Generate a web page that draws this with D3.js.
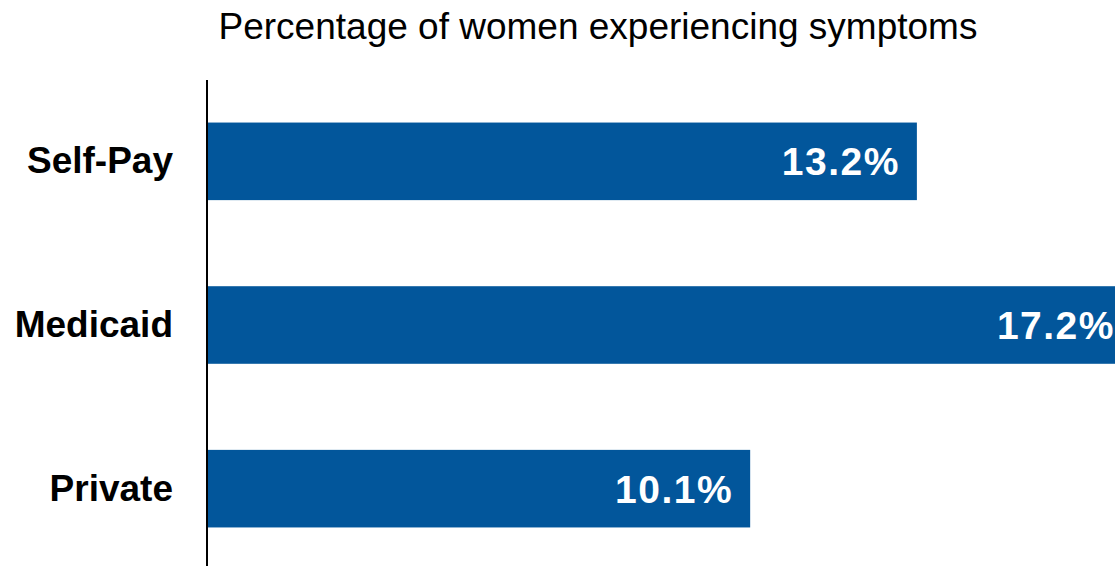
<!DOCTYPE html>
<html>
<head>
<meta charset="utf-8">
<script src="https://cdn.jsdelivr.net/npm/d3@7"></script>
<style>
  body { margin: 0; background: #fff; overflow: hidden; }
  svg { display: block; font-family: "Liberation Sans", Arial, sans-serif; }
</style>
</head>
<body>
<svg id="chart" width="1115" height="566"></svg>
<script>
// chart data
var categories = ['Self-Pay', 'Medicaid', 'Private'];
var values = [13.2, 17.2, 10.1];
var chartTitle = 'Percentage of women experiencing symptoms';

var svg = d3.select('#chart');

var x = d3.scaleLinear()
  .domain([0, 17.2])
  .range([207, 1132]);

var y = d3.scaleBand()
  .domain(categories)
  .range([80, 570])
  .paddingInner(0.526)
  .paddingOuter(0.26);

var data = categories.map(function(c, i) { return {cat: c, val: values[i]}; });

// title
svg.append('text')
  .attr('x', 598)
  .attr('y', 39)
  .attr('text-anchor', 'middle')
  .style('font-size', '37px')
  .style('fill', '#000')
  .text(chartTitle);

// bars
svg.selectAll('rect.bar')
  .data(data)
  .enter().append('rect')
  .attr('class', 'bar')
  .attr('x', x(0))
  .attr('y', function(d) { return y(d.cat); })
  .attr('width', function(d) { return x(d.val) - x(0); })
  .attr('height', y.bandwidth())
  .attr('fill', '#02569b');

// value labels inside bar ends
svg.selectAll('text.val')
  .data(data)
  .enter().append('text')
  .attr('class', 'val')
  .attr('x', function(d) { return x(d.val) - 17; })
  .attr('y', function(d) { return y(d.cat) + y.bandwidth() / 2; })
  .attr('dy', '0.36em')
  .attr('text-anchor', 'end')
  .style('font-size', '39px')
  .style('letter-spacing', '1.5px')
  .style('font-weight', 'bold')
  .style('fill', '#fff')
  .text(function(d) { return d.val.toFixed(1) + '%'; });

// category axis
var yAxis = d3.axisLeft(y).tickSize(0).tickPadding(34);
var gy = svg.append('g')
  .attr('transform', 'translate(' + x(0) + ',0)')
  .call(yAxis);
gy.select('.domain')
  .attr('d', 'M0,80V566')
  .attr('stroke', '#000')
  .attr('stroke-width', 2);
gy.selectAll('text')
  .style('font-family', '"Liberation Sans", Arial, sans-serif')
  .style('font-size', '37px')
  .style('font-weight', 'bold')
  .style('fill', '#000');
</script>
</body>
</html>
